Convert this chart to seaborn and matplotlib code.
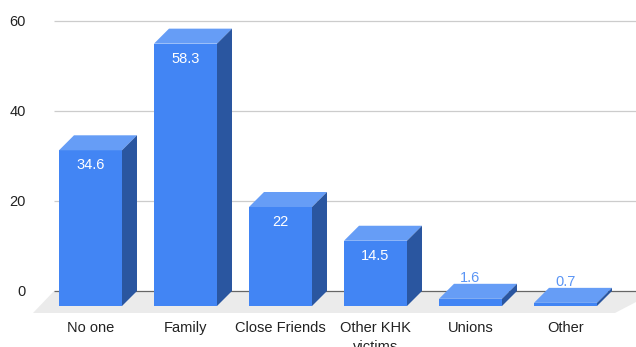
"""3D-style bar chart: who victims confided in (percent)."""

import matplotlib

matplotlib.use("Agg")
import matplotlib.pyplot as plt
from matplotlib.patches import Polygon
from matplotlib.transforms import Affine2D
import seaborn as sns

categories = ["No one", "Family", "Close Friends", "Other KHK\nvictims", "Unions", "Other"]
values = [34.6, 58.3, 22, 14.5, 1.6, 0.7]
value_labels = ["34.6", "58.3", "22", "14.5", "1.6", "0.7"]
y_ticks = [0, 20, 40, 60]

FRONT = "#4285f4"
TOP = "#669df6"
SIDE = "#2a56a0"
FLOOR = "#ebebeb"

sns.set_theme(style="white")
plt.rcParams["font.family"] = ["Liberation Sans", "DejaVu Sans"]

W, H, DPI = 636, 347, 100
fig = plt.figure(figsize=(W / DPI, H / DPI), dpi=DPI)
# axes spans from the floor's front edge to the top/right of the figure
ax = fig.add_axes([33 / W, (H - 313) / H, (W - 33) / W, 313 / H])

PX_X = 95.0   # pixels per category
PX_Y = 4.5    # pixels per value unit

# depth of the 3D extrusion, in data units
dx, dy = 15 / PX_X, 15 / PX_Y
fdx, fdy = 21 / PX_X, 22 / PX_Y

sns.barplot(x=categories, y=values, color=FRONT, saturation=1, width=63 / PX_X,
            linewidth=0, ax=ax, zorder=3)
bars = list(ax.patches)

ax.set_xlim(-57.5 / PX_X, (W - 90.5) / PX_X)
ax.set_ylim(-22 / PX_Y, 291 / PX_Y)
x0, x1 = ax.get_xlim()
y0 = ax.get_ylim()[0]

# floor
ax.add_patch(Polygon([(x0, y0), (x0 + fdx, 0), (x1 + fdx, 0), (x1 - fdx, y0)],
                     closed=True, color=FLOOR, lw=0, zorder=0))

# grid on the back wall
for t in y_ticks:
    ax.plot([x0 + fdx, x1 + 1], [t, t], color="#666666" if t == 0 else "#cccccc",
            lw=0.9, zorder=1, solid_capstyle="butt")

for bar, v, lab in zip(bars, values, value_labels):
    bar.set_facecolor(FRONT)
    bar.set_transform(Affine2D().translate(0, -dy) + ax.transData)
    left = bar.get_x()
    right = left + bar.get_width()
    h = bar.get_height()
    ax.add_patch(Polygon([(left, h - dy), (left + dx, h), (right + dx, h), (right, h - dy)],
                         closed=True, color=TOP, lw=0, zorder=3))
    ax.add_patch(Polygon([(right, h - dy), (right + dx, h), (right + dx, 0), (right, -dy)],
                         closed=True, color=SIDE, lw=0, zorder=3))
    cx = left + bar.get_width() / 2
    if h > 8:
        ax.text(cx, h - dy - 15 / PX_Y, lab, ha="center", va="center",
                color="white", fontsize=10.5, zorder=4)
    else:
        ax.text(cx, h + 6 / PX_Y, lab, ha="center", va="center",
                color="#5b95f5", fontsize=10.5, zorder=4)

ax.set_yticks(y_ticks)
ax.set_yticklabels([str(t) for t in y_ticks])
ax.tick_params(axis="y", length=0, pad=5, labelsize=10.5, labelcolor="#222222")
ax.tick_params(axis="x", length=0, pad=5.5, labelsize=10.5, labelcolor="#222222")
for tl in ax.get_xticklabels():
    tl.set_linespacing(1.45)
ax.set_xlabel("")
ax.set_ylabel("")
for s in ax.spines.values():
    s.set_visible(False)

fig.savefig("out.png", dpi=DPI)
